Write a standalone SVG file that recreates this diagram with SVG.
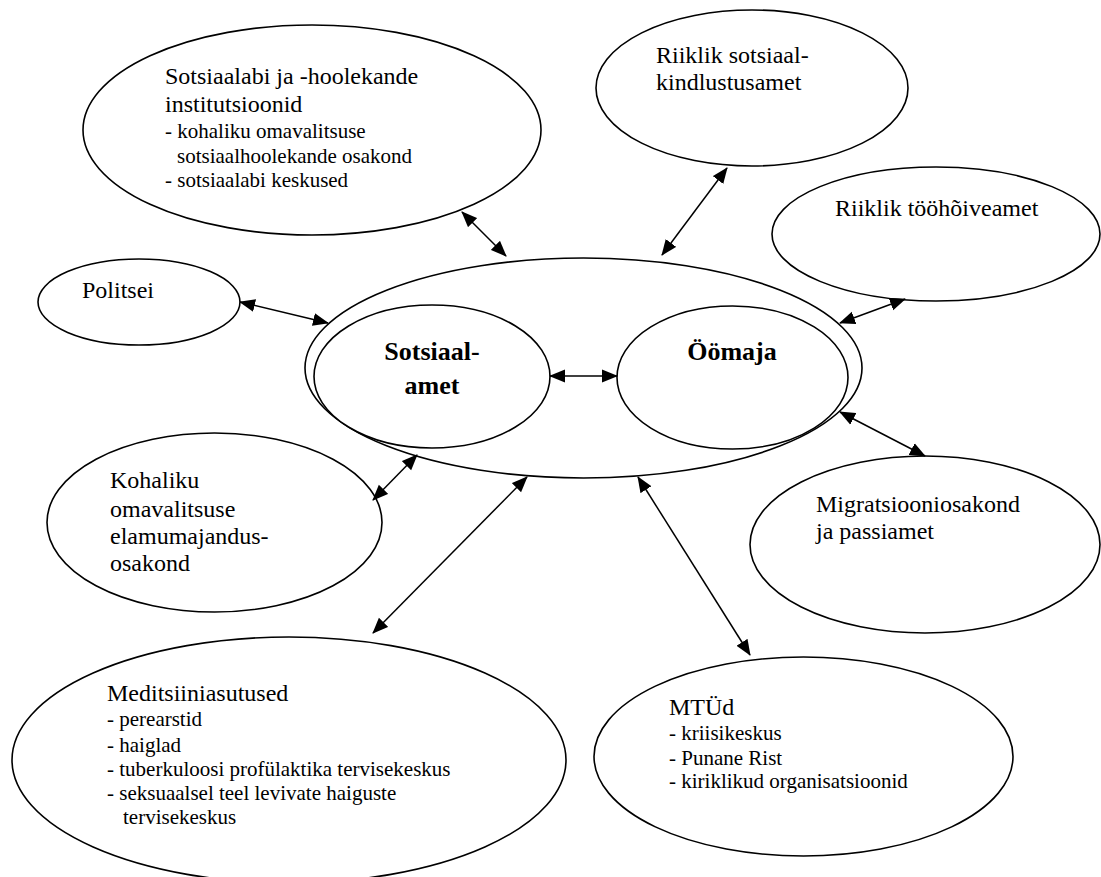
<svg xmlns="http://www.w3.org/2000/svg" width="1101" height="877" viewBox="0 0 1101 877">
<style>
.n{fill:#fff;stroke:#000;stroke-width:1.6}
text{font-family:'Liberation Serif','Times New Roman',Tinos,Times,serif;fill:#000}
.t{font-size:24px}
.s{font-size:21px}
.b{font-size:26px;font-weight:bold;text-anchor:middle}
.c line{stroke:#000;stroke-width:1.5;marker-start:url(#ah);marker-end:url(#ah)}
</style>
<defs>
<marker id="ah" markerUnits="userSpaceOnUse" markerWidth="16" markerHeight="14" refX="15" refY="6.5" orient="auto-start-reverse" viewBox="0 0 16 13">
<path d="M0,0 L16,6.5 L0,13 z" fill="#000"/>
</marker>
</defs>
<rect width="1101" height="877" fill="#fff"/>
<g id="sotsiaalabi">
<ellipse class="n" cx="312" cy="130" rx="229" ry="105"/>
<text class="t" x="165" y="84">Sotsiaalabi ja -hoolekande</text>
<text class="t" x="165" y="112">institutsioonid</text>
<text class="s" x="165" y="138">- kohaliku omavalitsuse</text>
<text class="s" x="177" y="163">sotsiaalhoolekande osakond</text>
<text class="s" x="165" y="187">- sotsiaalabi keskused</text>
</g>
<g id="sotsiaalkindlustus">
<ellipse class="n" cx="752" cy="88" rx="156" ry="78"/>
<text class="t" x="656" y="63">Riiklik sotsiaal-</text>
<text class="t" x="656" y="90">kindlustusamet</text>
</g>
<g id="toohoive">
<ellipse class="n" cx="936" cy="234" rx="164" ry="67"/>
<text class="t" x="835" y="216">Riiklik tööhõiveamet</text>
</g>
<g id="politsei">
<ellipse class="n" cx="139" cy="302" rx="101" ry="43"/>
<text class="t" x="82" y="298">Politsei</text>
</g>
<g id="kesk">
<ellipse class="n" cx="583.5" cy="368" rx="278.5" ry="110"/>
</g>
<g id="sotsiaalamet">
<ellipse class="n" cx="432" cy="376.5" rx="118" ry="71.5"/>
<text class="b" x="432" y="360">Sotsiaal-</text>
<text class="b" x="432" y="394">amet</text>
</g>
<g id="oomaja">
<ellipse class="n" cx="732.5" cy="377.5" rx="115.5" ry="71.5"/>
<text class="b" x="732" y="360">Öömaja</text>
</g>
<g id="elamumajandus">
<ellipse class="n" cx="214.5" cy="522.5" rx="167.5" ry="89.5"/>
<text class="t" x="110" y="488">Kohaliku</text>
<text class="t" x="110" y="517">omavalitsuse</text>
<text class="t" x="110" y="544">elamumajandus-</text>
<text class="t" x="110" y="571">osakond</text>
</g>
<g id="migratsioon">
<ellipse class="n" cx="925" cy="544.5" rx="175" ry="88.5"/>
<text class="t" x="816" y="512">Migratsiooniosakond</text>
<text class="t" x="816" y="539">ja passiamet</text>
</g>
<g id="meditsiin">
<ellipse class="n" cx="289" cy="760" rx="277" ry="123"/>
<text class="t" x="107" y="701">Meditsiiniasutused</text>
<text class="s" x="107" y="726">- perearstid</text>
<text class="s" x="107" y="752">- haiglad</text>
<text class="s" x="107" y="776">- tuberkuloosi profülaktika tervisekeskus</text>
<text class="s" x="107" y="800">- seksuaalsel teel levivate haiguste</text>
<text class="s" x="123" y="824">tervisekeskus</text>
</g>
<g id="mtud">
<ellipse class="n" cx="803.5" cy="756.5" rx="209.5" ry="99.5"/>
<text class="t" x="669" y="715">MTÜd</text>
<text class="s" x="669" y="740">- kriisikeskus</text>
<text class="s" x="669" y="765">- Punane Rist</text>
<text class="s" x="669" y="788">- kiriklikud organisatsioonid</text>
</g>
<g id="connectors" class="c">
<line x1="462" y1="212" x2="506" y2="256"/>
<line x1="727" y1="168" x2="662" y2="255"/>
<line x1="905" y1="299" x2="840" y2="323"/>
<line x1="240" y1="302" x2="328" y2="323"/>
<line x1="550" y1="376" x2="617" y2="376"/>
<line x1="840" y1="412" x2="925" y2="456"/>
<line x1="373" y1="500" x2="417" y2="455"/>
<line x1="373" y1="633" x2="527" y2="477"/>
<line x1="638" y1="477" x2="750" y2="655"/>
</g>
</svg>
